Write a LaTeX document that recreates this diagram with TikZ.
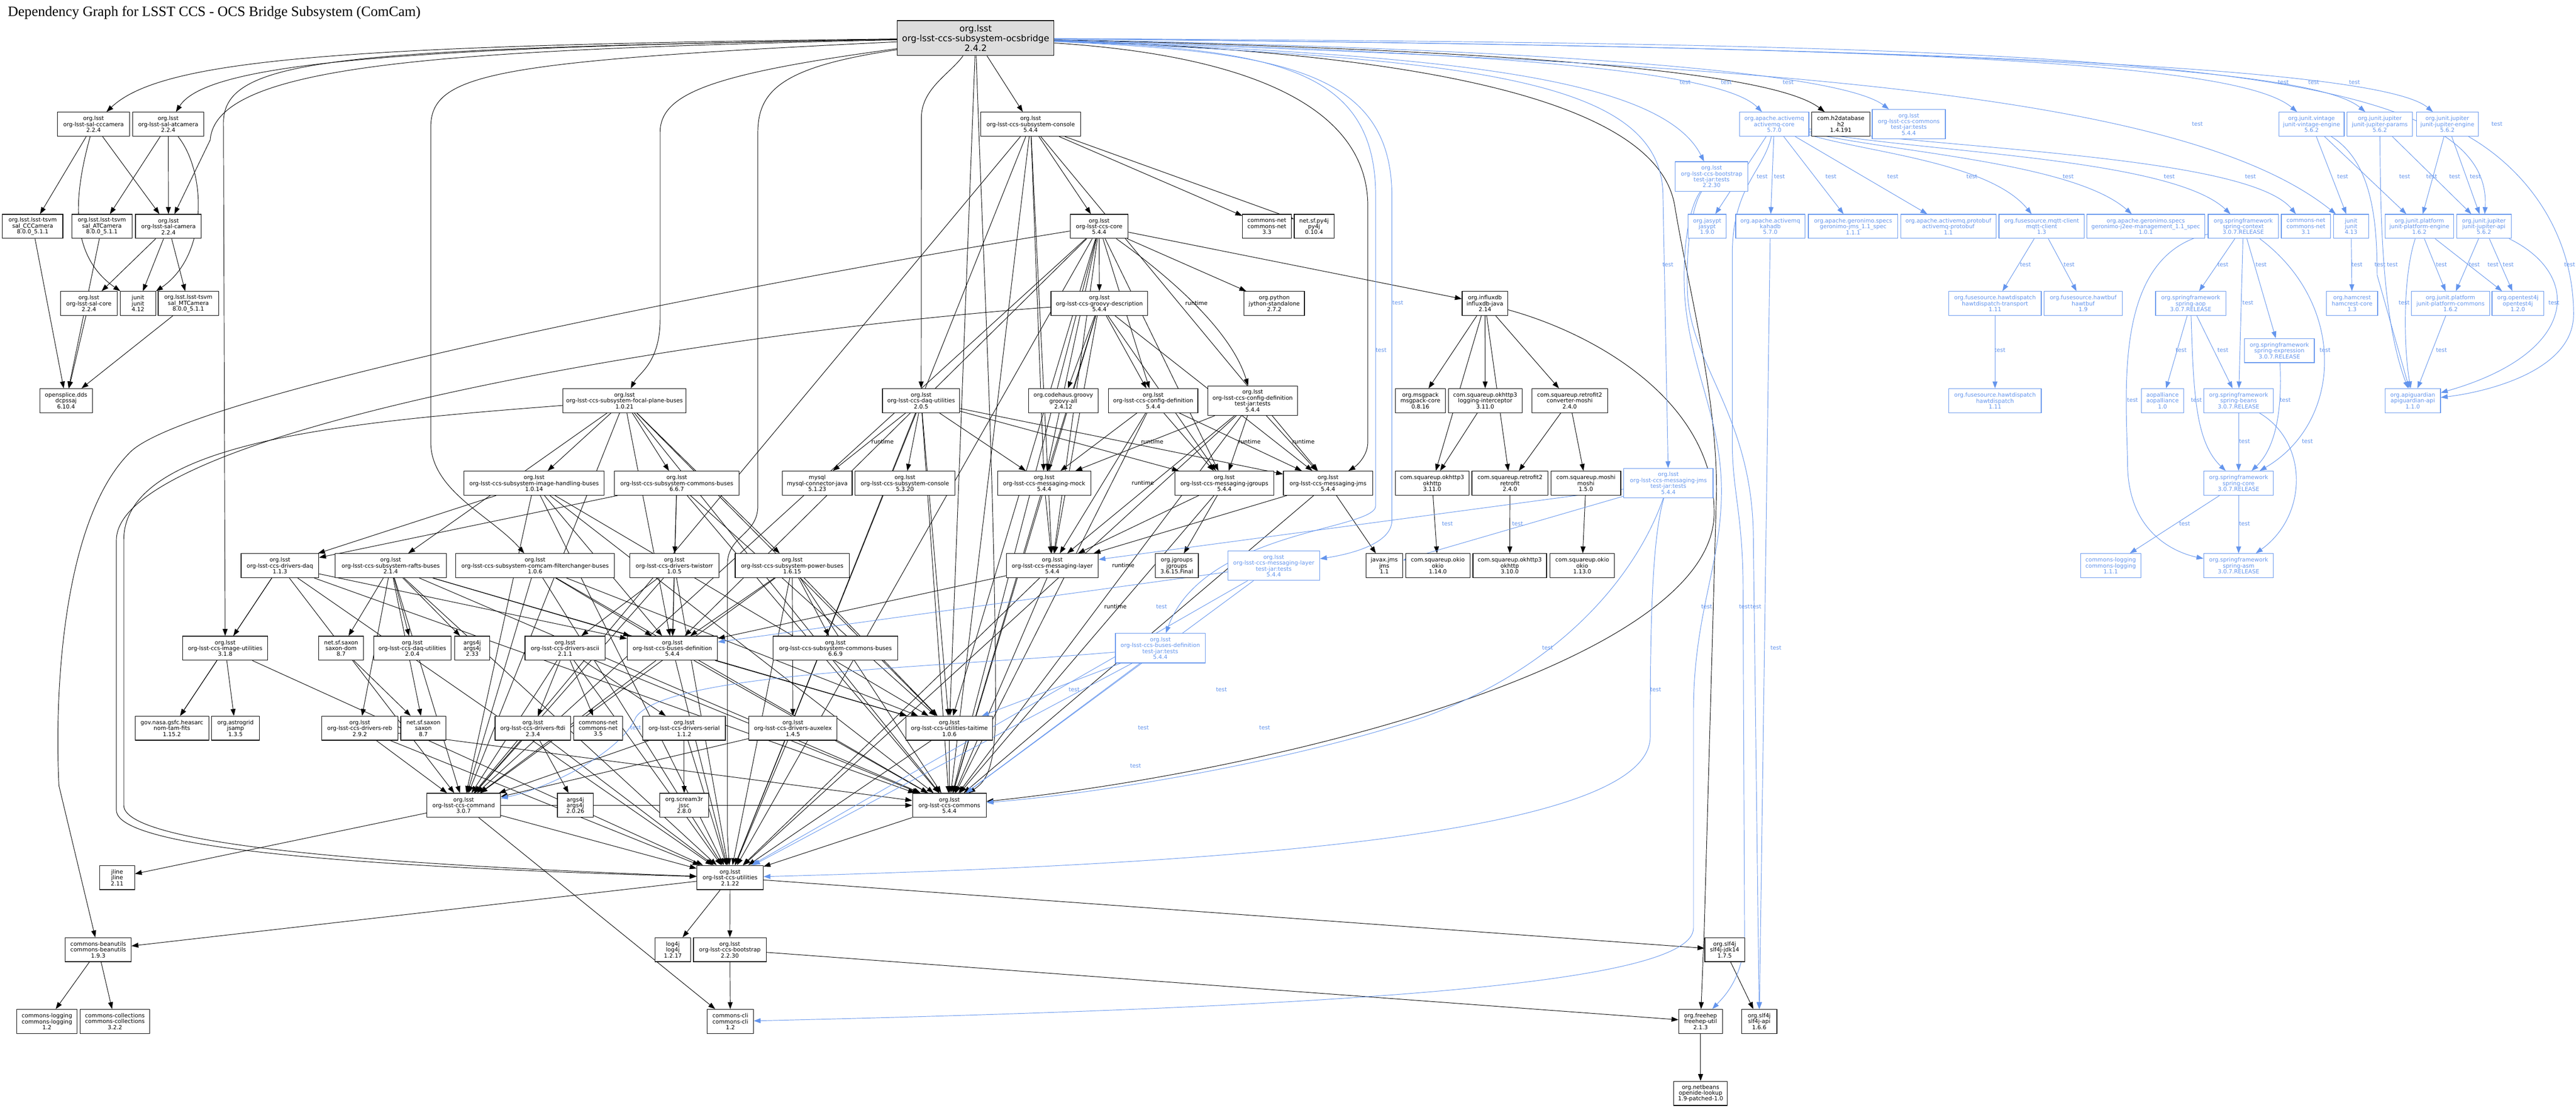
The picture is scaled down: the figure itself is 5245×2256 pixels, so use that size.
\documentclass[tikz,border=0pt]{standalone}
\usepackage{fontspec}
\setmainfont{DejaVu Sans}
\newfontfamily\ttlfont{Liberation Serif}
\usetikzlibrary{arrows.meta,backgrounds}
\definecolor{tblue}{RGB}{100,149,237}
\definecolor{rootgray}{RGB}{221,221,221}
\newcommand\nfont{\fontsize{11.5}{12}\selectfont}
\newcommand\Nd[6][]{\node[nd,minimum width=#5pt,#1] (#2) at (#3,#4) {#6};}
\tikzset{
 nd/.style={draw=black, text=black, fill=white, line width=1.3pt, inner sep=1pt, minimum height=49pt, align=center, font=\nfont},
 bl/.style={draw=tblue, text=tblue},
 four/.style={minimum height=60pt},
 dep/.style={draw=black, line width=1pt, -{Triangle[length=14pt,width=10pt]}},
 tdep/.style={draw=tblue, line width=1pt, -{Triangle[length=14pt,width=10pt]}},
 tlab/.style={text=tblue, font=\nfont, inner sep=0pt},
 rlab/.style={text=black, font=\nfont, inner sep=0pt},
}
\begin{document}
\begin{tikzpicture}[x=1pt,y=-1pt]
\useasboundingbox (0,0) rectangle (5245,2256);
\node[anchor=base west,inner sep=0pt,font={\ttlfont\fontsize{29}{34}\selectfont}] (title) at (16,33) {Dependency Graph for LSST CCS - OCS Bridge Subsystem (ComCam)};
% root
\node[nd, fill=rootgray, minimum width=319pt, minimum height=71pt, font={\fontsize{17.9}{20}\selectfont}] (r) at (1986.5,77.5) {org.lsst\\org-lsst-ccs-subsystem-ocsbridge\\2.4.2};
% row 253
\Nd{cccam}{190.5}{253}{147}{org.lsst\\org-lsst-sal-cccamera\\2.2.4}
\Nd{atcam}{342.5}{253}{145}{org.lsst\\org-lsst-sal-atcamera\\2.2.4}
\Nd{console}{2098.5}{253}{203}{org.lsst\\org-lsst-ccs-subsystem-console\\5.4.4}
\Nd[bl]{amqcore}{3612.5}{253}{141}{org.apache.activemq\\activemq-core\\5.7.0}
\Nd{h2}{3748}{253}{118}{com.h2database\\h2\\1.4.191}
\Nd[bl,four]{commonsT}{3886.5}{253}{149}{org.lsst\\org-lsst-ccs-commons\\test-jar:tests\\5.4.4}
\Nd[bl]{vint}{4706.5}{253}{133}{org.junit.vintage\\junit-vintage-engine\\5.6.2}
\Nd[bl]{jparams}{4845.5}{253}{133}{org.junit.jupiter\\junit-jupiter-params\\5.6.2}
\Nd[bl]{jeng}{4983}{253}{126}{org.junit.jupiter\\junit-jupiter-engine\\5.6.2}
\Nd[bl,four]{bootT}{3485}{359.5}{148}{org.lsst\\org-lsst-ccs-bootstrap\\test-jar:tests\\2.2.30}
% row 461
\Nd{tsvmCC}{66.5}{461}{123}{org.lsst.lsst-tsvm\\sal\_CCCamera\\8.0.0\_5.1.1}
\Nd{tsvmAT}{207.5}{461}{123}{org.lsst.lsst-tsvm\\sal\_ATCamera\\8.0.0\_5.1.1}
\Nd{salcam}{343}{461}{134}{org.lsst\\org-lsst-sal-camera\\2.2.4}
\Nd{core}{2238}{461}{118}{org.lsst\\org-lsst-ccs-core\\5.4.4}
\Nd{cnet33}{2579.5}{461}{99}{commons-net\\commons-net\\3.3}
\Nd{py4j}{2675.5}{461}{81}{net.sf.py4j\\py4j\\0.10.4}
\Nd[bl]{jasypt}{3476}{461}{78}{org.jasypt\\jasypt\\1.9.0}
\Nd[bl]{kahadb}{3604.5}{461}{141}{org.apache.activemq\\kahadb\\5.7.0}
\Nd[bl]{gjms}{3773}{461}{182}{org.apache.geronimo.specs\\geronimo-jms\_1.1\_spec\\1.1.1}
\Nd[bl]{amqpb}{3967}{461}{194}{org.apache.activemq.protobuf\\activemq-protobuf\\1.1}
\Nd[bl]{mqtt}{4157}{461}{174}{org.fusesource.mqtt-client\\mqtt-client\\1.3}
\Nd[bl]{gj2ee}{4369}{461}{240}{org.apache.geronimo.specs\\geronimo-j2ee-management\_1.1\_spec\\1.0.1}
\Nd[bl]{sctx}{4567.5}{461}{143}{org.springframework\\spring-context\\3.0.7.RELEASE}
\Nd[bl]{cnet31}{4695}{461}{100}{commons-net\\commons-net\\3.1}
\Nd[bl]{junit413}{4787}{461}{72}{junit\\junit\\4.13}
\Nd[bl]{pleng}{4926}{461}{140}{org.junit.platform\\junit-platform-engine\\1.6.2}
\Nd[bl]{japi}{5057.5}{461}{111}{org.junit.jupiter\\junit-jupiter-api\\5.6.2}
% row 618
\Nd{salcore}{181}{618}{116}{org.lsst\\org-lsst-sal-core\\2.2.4}
\Nd{junit412}{281}{618}{72}{junit\\junit\\4.12}
\Nd{tsvmMT}{383.5}{618}{123}{org.lsst.lsst-tsvm\\sal\_MTCamera\\8.0.0\_5.1.1}
\Nd{groovyd}{2238.5}{618}{197}{org.lsst\\org-lsst-ccs-groovy-description\\5.4.4}
\Nd{jython}{2594.5}{618}{123}{org.python\\jython-standalone\\2.7.2}
\Nd{influx}{3023.5}{618}{93}{org.influxdb\\influxdb-java\\2.14}
\Nd[bl]{hdt}{4062}{618}{188}{org.fusesource.hawtdispatch\\hawtdispatch-transport\\1.11}
\Nd[bl]{hawtbuf}{4241.5}{618}{159}{org.fusesource.hawtbuf\\hawtbuf\\1.9}
\Nd[bl]{saop}{4460.5}{618}{143}{org.springframework\\spring-aop\\3.0.7.RELEASE}
\Nd[bl]{hamcrest}{4789}{618}{104}{org.hamcrest\\hamcrest-core\\1.3}
\Nd[bl]{pcommons}{4989.5}{618}{159}{org.junit.platform\\junit-platform-commons\\1.6.2}
\Nd[bl]{ot4j}{5126.5}{618}{105}{org.opentest4j\\opentest4j\\1.2.0}
\Nd[bl]{sexpr}{4641}{714}{142}{org.springframework\\spring-expression\\3.0.7.RELEASE}
% row 816
\Nd{ospl}{134.5}{816}{107}{opensplice.dds\\dcpssaj\\6.10.4}
\Nd{fpb}{1271.5}{816}{251}{org.lsst\\org-lsst-ccs-subsystem-focal-plane-buses\\1.0.21}
\Nd{daqu205}{1875.5}{816}{157}{org.lsst\\org-lsst-ccs-daq-utilities\\2.0.5}
\Nd{groovyall}{2165}{816}{142}{org.codehaus.groovy\\groovy-all\\2.4.12}
\Nd{cfgdef}{2348}{816}{182}{org.lsst\\org-lsst-ccs-config-definition\\5.4.4}
\Nd[four]{cfgdefT}{2550.5}{816}{183}{org.lsst\\org-lsst-ccs-config-definition\\test-jar:tests\\5.4.4}
\Nd{msgpack}{2892}{816}{102}{org.msgpack\\msgpack-core\\0.8.16}
\Nd{logint}{3024}{816}{150}{com.squareup.okhttp3\\logging-interceptor\\3.11.0}
\Nd{convmoshi}{3196}{816}{154}{com.squareup.retrofit2\\converter-moshi\\2.4.0}
\Nd[bl]{hd}{4062}{816}{188}{org.fusesource.hawtdispatch\\hawtdispatch\\1.11}
\Nd[bl]{aopall}{4403}{816}{86}{aopalliance\\aopalliance\\1.0}
\Nd[bl]{sbeans}{4558}{816}{142}{org.springframework\\spring-beans\\3.0.7.RELEASE}
\Nd[bl]{apig}{4912.5}{816}{113}{org.apiguardian\\apiguardian-api\\1.1.0}
% row 984
\Nd{ihb}{1087.5}{984}{285}{org.lsst\\org-lsst-ccs-subsystem-image-handling-buses\\1.0.14}
\Nd{scb667}{1378}{984}{254}{org.lsst\\org-lsst-ccs-subsystem-commons-buses\\6.6.7}
\Nd{mysql}{1664}{984}{142}{mysql\\mysql-connector-java\\5.1.23}
\Nd{console520}{1842.5}{984}{203}{org.lsst\\org-lsst-ccs-subsystem-console\\5.3.20}
\Nd{mmock}{2126}{984}{190}{org.lsst\\org-lsst-ccs-messaging-mock\\5.4.4}
\Nd{mjgroups}{2493}{984}{202}{org.lsst\\org-lsst-ccs-messaging-jgroups\\5.4.4}
\Nd{mjms}{2704}{984}{182}{org.lsst\\org-lsst-ccs-messaging-jms\\5.4.4}
\Nd{okhttp311}{2916}{984}{150}{com.squareup.okhttp3\\okhttp\\3.11.0}
\Nd{retrofit}{3074.5}{984}{155}{com.squareup.retrofit2\\retrofit\\2.4.0}
\Nd{moshi}{3229}{984}{142}{com.squareup.moshi\\moshi\\1.5.0}
\Nd[bl,four]{mjmsT}{3397}{984}{182}{org.lsst\\org-lsst-ccs-messaging-jms\\test-jar:tests\\5.4.4}
\Nd[bl]{score}{4558}{984}{142}{org.springframework\\spring-core\\3.0.7.RELEASE}
% row 1152
\Nd{daq}{570}{1152}{158}{org.lsst\\org-lsst-ccs-drivers-daq\\1.1.3}
\Nd{rafts}{795.5}{1152}{227}{org.lsst\\org-lsst-ccs-subsystem-rafts-buses\\2.1.4}
\Nd{filt}{1089.5}{1152}{323}{org.lsst\\org-lsst-ccs-subsystem-comcam-filterchanger-buses\\1.0.6}
\Nd{twist}{1373}{1152}{182}{org.lsst\\org-lsst-ccs-drivers-twistorr\\1.0.5}
\Nd{power}{1613}{1152}{232}{org.lsst\\org-lsst-ccs-subsystem-power-buses\\1.6.15}
\Nd{mlayer}{2142.5}{1152}{187}{org.lsst\\org-lsst-ccs-messaging-layer\\5.4.4}
\Nd{jgroups}{2396}{1152}{88}{org.jgroups\\jgroups\\3.6.15.Final}
\Nd[bl,four]{mlayerT}{2593.5}{1152}{187}{org.lsst\\org-lsst-ccs-messaging-layer\\test-jar:tests\\5.4.4}
\Nd{jms}{2818.5}{1152}{75}{javax.jms\\jms\\1.1}
\Nd{okio114}{2927.5}{1152}{131}{com.squareup.okio\\okio\\1.14.0}
\Nd{okhttp310}{3074}{1152}{150}{com.squareup.okhttp3\\okhttp\\3.10.0}
\Nd{okio113}{3221.5}{1152}{131}{com.squareup.okio\\okio\\1.13.0}
\Nd[bl]{clog111}{4297.5}{1152}{123}{commons-logging\\commons-logging\\1.1.1}
\Nd[bl]{sasm}{4558}{1152}{142}{org.springframework\\spring-asm\\3.0.7.RELEASE}
% row 1320
\Nd{imgu}{458.5}{1320}{173}{org.lsst\\org-lsst-ccs-image-utilities\\3.1.8}
\Nd{saxdom}{694.5}{1320}{91}{net.sf.saxon\\saxon-dom\\8.7}
\Nd{daqu204}{839.5}{1320}{157}{org.lsst\\org-lsst-ccs-daq-utilities\\2.0.4}
\Nd{args433}{961.5}{1320}{71}{args4j\\args4j\\2.33}
\Nd{ascii}{1150.5}{1320}{163}{org.lsst\\org-lsst-ccs-drivers-ascii\\2.1.1}
\Nd{busdef}{1369}{1320}{184}{org.lsst\\org-lsst-ccs-buses-definition\\5.4.4}
\Nd{scb669}{1701}{1320}{254}{org.lsst\\org-lsst-ccs-subsystem-commons-buses\\6.6.9}
\Nd[bl,four]{busdefT}{2362.5}{1320}{183}{org.lsst\\org-lsst-ccs-buses-definition\\test-jar:tests\\5.4.4}
% row 1483
\Nd{fits}{350}{1483}{150}{gov.nasa.gsfc.heasarc\\nom-tam-fits\\1.15.2}
\Nd{jsamp}{479.5}{1483}{97}{org.astrogrid\\jsamp\\1.3.5}
\Nd{reb}{732.5}{1483}{155}{org.lsst\\org-lsst-ccs-drivers-reb\\2.9.2}
\Nd{saxon}{862}{1483}{92}{net.sf.saxon\\saxon\\8.7}
\Nd{ftdi}{1085}{1483}{154}{org.lsst\\org-lsst-ccs-drivers-ftdi\\2.3.4}
\Nd{cnet35}{1218}{1483}{100}{commons-net\\commons-net\\3.5}
\Nd{serial}{1393}{1483}{168}{org.lsst\\org-lsst-ccs-drivers-serial\\1.1.2}
\Nd{auxelex}{1614.5}{1483}{179}{org.lsst\\org-lsst-ccs-drivers-auxelex\\1.4.5}
\Nd{taitime}{1933}{1483}{176}{org.lsst\\org-lsst-ccs-utilities-taitime\\1.0.6}
% row 1640
\Nd{command}{944}{1640}{150}{org.lsst\\org-lsst-ccs-command\\3.0.7}
\Nd{args2026}{1171.5}{1640}{73}{args4j\\args4j\\2.0.26}
\Nd{jssc}{1393}{1640}{100}{org.scream3r\\jssc\\2.8.0}
\Nd{commons}{1933}{1640}{150}{org.lsst\\org-lsst-ccs-commons\\5.4.4}
% row 1787
\Nd{jline}{238.5}{1787}{71}{jline\\jline\\2.11}
\Nd{utils}{1486.5}{1787}{135}{org.lsst\\org-lsst-ccs-utilities\\2.1.22}
% row 1934
\Nd{beanutils}{200}{1934}{134}{commons-beanutils\\commons-beanutils\\1.9.3}
\Nd{log4j}{1370}{1934}{72}{log4j\\log4j\\1.2.17}
\Nd{bootstrap}{1486}{1934}{148}{org.lsst\\org-lsst-ccs-bootstrap\\2.2.30}
\Nd{jdk14}{3511.5}{1934}{81}{org.slf4j\\slf4j-jdk14\\1.7.5}
% row 2080
\Nd{clog12}{95.5}{2080}{123}{commons-logging\\commons-logging\\1.2}
\Nd{ccoll}{234}{2080}{142}{commons-collections\\commons-collections\\3.2.2}
\Nd{cli}{1487}{2080}{94}{commons-cli\\commons-cli\\1.2}
\Nd{freehep}{3462.5}{2080}{89}{org.freehep\\freehep-util\\2.1.3}
\Nd{slf4japi}{3582}{2080}{72}{org.slf4j\\slf4j-api\\1.6.6}
\Nd{openide}{3462.5}{2226.5}{109}{org.netbeans\\openide-lookup\\1.9-patched-1.0}
% labels
\foreach \x/\y [count=\i] in {1797/899,2346/899,2544/899,2654/899,2327/983,2287/1151,2271/1235,2436/617}
  \node[rlab] (rl\i) at (\x,\y) {runtime};
\foreach \x/\y [count=\i] in {3431/168,3515/168,3641/168,4649/168,4711/168,4794/168,4474/252,5084/252,
 3588/359,3623/359,3728/359,3854/359,4015/359,4211/359,4417/359,4582/359,4770/359,4896/359,4951/359,4998/359,5040/359,
 3396/539,4124/539,4213/539,4526/539,4604/539,4799/539,4846/539,4871/539,4971/539,5038/539,5076/539,5107/539,5232/539,
 2846/617,4577/617,4895/617,5200/617,2812/713,4072/713,4441/713,4526/713,4734/713,4971/713,
 4342/815,4472/815,4653/815,4570/899,4698/899,4448/1067,4570/1067,2947/1067,3090/1067,
 2365/1235,3475/1235,3552/1235,3575/1235,3151/1319,3616/1319,2187/1404,2487/1404,3371/1404,
 2328/1482,2575/1482,1294/1482,2312/1560}
  \node[tlab] (tl\i) at (\x,\y) {test};
\begin{scope}[on background layer]
\fill[white] (0,0) rectangle (5245,2256);
% black straight edges
\foreach \a/\b in {
cccam/tsvmCC, cccam/salcam, atcam/tsvmAT, atcam/salcam, salcam/salcore, salcam/junit412, salcam/tsvmMT,
tsvmCC/ospl, tsvmAT/ospl, salcore/ospl, tsvmMT/ospl, r/console, r/taitime,
console/core, console/cnet33, console/py4j, console/mmock, console/mjms, console/mlayer, console/commons, console/command, console/utils,
core/groovyd, core/jython, core/influx, core/cfgdef, core/mmock, core/mjgroups, core/mlayer, core/commons, core/utils, core/command, core/taitime, core/busdef,
groovyd/groovyall, groovyd/cfgdef, groovyd/mmock, groovyd/mjgroups, groovyd/mjms, groovyd/mlayer, groovyd/commons,
influx/msgpack, influx/logint, influx/convmoshi, influx/okhttp311, influx/retrofit,
logint/okhttp311, convmoshi/retrofit, convmoshi/moshi, okhttp311/okio114, retrofit/okhttp310, moshi/okio113,
cfgdef/mmock, cfgdef/mjgroups, cfgdef/mjms, cfgdef/mlayer, cfgdef/commons,
cfgdefT/mmock, cfgdefT/mjgroups, cfgdefT/mjms, cfgdefT/mlayer, cfgdefT/commons, cfgdefT/utils,
daqu205/mysql, daqu205/console520, daqu205/mmock, daqu205/mjgroups, daqu205/mjms, daqu205/commons, daqu205/taitime, daqu205/utils,
fpb/ihb, fpb/scb667, fpb/rafts, fpb/power, fpb/busdef, fpb/command, fpb/commons, fpb/taitime,
ihb/daq, ihb/busdef, ihb/command, ihb/commons, ihb/taitime, ihb/utils,
scb667/twist, scb667/daq, scb667/busdef, scb667/commons, scb667/taitime,
daq/imgu, daq/fits, daq/busdef, daq/command, daq/utils, daq/commons,
rafts/saxdom, rafts/daqu204, rafts/args433, rafts/reb, rafts/saxon, rafts/busdef, rafts/command, rafts/utils, rafts/commons, rafts/taitime,
filt/busdef, filt/command, filt/commons, filt/utils, filt/taitime,
twist/ascii, twist/busdef, twist/command, twist/utils,
power/scb669, power/auxelex, power/busdef, power/command, power/commons, power/utils, power/taitime,
imgu/fits, imgu/jsamp, imgu/utils, saxdom/saxon,
ascii/ftdi, ascii/cnet35, ascii/serial, ascii/command, ascii/utils, ascii/commons,
reb/command, reb/utils, reb/commons, ftdi/args2026, ftdi/command, ftdi/utils,
serial/jssc, serial/command, serial/utils, auxelex/command, auxelex/utils,
busdef/command, busdef/commons, busdef/utils, busdef/taitime,
mmock/mlayer, mmock/commons, mjgroups/mlayer, mjgroups/jgroups, mjgroups/commons,
mjms/mlayer, mjms/jms, mjms/commons, mlayer/busdef, mlayer/commons, mlayer/utils,
taitime/commons, taitime/utils, command/jline, command/commons, command/utils, command/cli,
commons/utils, utils/log4j, utils/bootstrap, utils/jdk14, utils/beanutils,
bootstrap/cli, bootstrap/freehep, jdk14/slf4japi, freehep/openide, beanutils/clog12, beanutils/ccoll}
  \draw[dep] (\a) -- (\b);
% black routed edges
\draw[dep] (cccam) .. controls (150,400) and (140,520) .. (junit412);
\draw[dep] (atcam) .. controls (420,350) and (425,520) .. (junit412);
\draw[dep] (core) .. controls (2320,520) and (2500,650) .. (cfgdefT);
\draw[dep] (r) .. controls (700,92) and (330,120) .. (cccam);
\draw[dep] (r) .. controls (800,96) and (420,130) .. (atcam);
\draw[dep] (r) .. controls (900,102) and (440,130) .. (428,285) -- (salcam);
\draw[dep] (r) .. controls (700,100) and (455,115) .. (455,250) -- (imgu);
\draw[dep] (r) .. controls (1000,125) and (877,150) .. (877,260) -- (877,900) .. controls (877,1000) and (1000,1050) .. (filt);
\draw[dep] (r) .. controls (1450,150) and (1344,190) .. (1344,270) -- (1344,650) .. controls (1344,740) and (1300,760) .. (fpb);
\draw[dep] (r) .. controls (1600,135) and (1543,180) .. (1543,270) -- (1543,1030) .. controls (1543,1090) and (1481,1090) .. (1481,1150) -- (1481,1700) -- (utils);
\draw[dep] (r) .. controls (1935,150) and (1876,180) .. (1876,240) -- (daqu205);
\draw[dep] (r) .. controls (2000,500) and (2027,1000) .. (2027,1440) .. controls (2027,1560) and (2010,1590) .. (commons);
\draw[dep] (r) .. controls (2500,110) and (2785,200) .. (2785,420) -- (2785,900) .. controls (2785,930) and (2760,950) .. (mjms);
\draw[dep] (r) .. controls (3000,100) and (3600,140) .. (h2);
\draw[dep] (r) .. controls (3000,110) and (3380,230) .. (3410,420) .. controls (3440,600) and (3495,800) .. (3495,1000) -- (3470,1890) -- (freehep);
\draw[dep] (influx) .. controls (3250,680) and (3495,820) .. (3490,1050) .. controls (3480,1350) and (2600,1570) .. (commons);
\draw[dep] (core) .. controls (1500,580) and (400,800) .. (268,918) .. controls (130,1050) and (110,1400) .. (120,1600) -- (beanutils);
\draw[dep] (groovyd) .. controls (1400,680) and (237,880) .. (237,1100) -- (237,1650) .. controls (237,1740) and (900,1770) .. (utils);
\draw[dep] (fpb) .. controls (700,860) and (252,900) .. (252,1100) -- (252,1640) .. controls (252,1730) and (900,1765) .. (utils);
% blue straight edges
\foreach \a/\b in {amqcore/jasypt, amqcore/kahadb, amqcore/gjms, amqcore/amqpb, kahadb/slf4japi,
mqtt/hdt, mqtt/hawtbuf, hdt/hd, sctx/saop, sctx/sexpr, sctx/sbeans, saop/aopall, saop/sbeans, sbeans/score, score/clog111, score/sasm,
junit413/hamcrest, vint/junit413, vint/pleng, jparams/japi, jeng/pleng, jeng/japi, pleng/pcommons, pleng/ot4j, japi/pcommons, japi/ot4j, pcommons/apig,
mjmsT/mlayer, mjmsT/jms, mlayerT/busdef, mlayerT/commons, mlayerT/utils, busdefT/taitime, busdefT/commons, busdefT/utils}
  \draw[tdep] (\a) -- (\b);
% blue routed edges
\draw[tdep] (r) .. controls (2900,110) and (3380,150) .. (bootT);
\draw[tdep] (r) .. controls (3000,105) and (3500,140) .. (amqcore);
\draw[tdep] (r) .. controls (3200,100) and (3750,150) .. (commonsT);
\draw[tdep] (r) .. controls (3800,95) and (4550,120) .. (vint);
\draw[tdep] (r) .. controls (3900,95) and (4700,130) .. (jparams);
\draw[tdep] (r) .. controls (4000,95) and (4850,140) .. (jeng);
\draw[tdep] (r) .. controls (3600,130) and (4450,190) .. (junit413);
\draw[tdep] (r) .. controls (4200,90) and (5080,110) .. (japi);
\draw[tdep] (r) .. controls (3000,120) and (3386,160) .. (3386,400) -- (mjmsT);
\draw[tdep] (r) .. controls (2600,105) and (2834,140) .. (2834,400) -- (2834,1060) .. controls (2834,1110) and (2740,1130) .. (mlayerT);
\draw[tdep] (r) .. controls (2600,100) and (2801,140) .. (2801,400) -- (2801,1030) .. controls (2801,1080) and (2450,1080) .. (busdefT);
\draw[tdep] (amqcore) .. controls (3800,310) and (4050,330) .. (mqtt);
\draw[tdep] (amqcore) .. controls (3850,310) and (4220,330) .. (gj2ee);
\draw[tdep] (amqcore) .. controls (3900,310) and (4420,320) .. (sctx);
\draw[tdep] (amqcore) .. controls (4000,305) and (4580,320) .. (cnet31);
\draw[tdep] (amqcore) .. controls (3590,350) and (3527,380) .. (3527,520) -- (3527,900) .. controls (3527,1000) and (3549,1050) .. (3549,1200) -- (3552,1900) .. controls (3552,1990) and (3510,2030) .. (freehep);
\draw[tdep] (bootT) .. controls (3440,420) and (3425,500) .. (3430,600) .. controls (3440,750) and (3505,850) .. (3505,1000) .. controls (3505,1150) and (3448,1250) .. (3448,1450) -- (3448,1890) .. controls (3448,2000) and (2800,2050) .. (cli);
\draw[tdep] (bootT) .. controls (3445,420) and (3432,500) .. (3436,600) .. controls (3445,750) and (3570,850) .. (3570,1100) -- (slf4japi);
\draw[tdep] (sctx) .. controls (4780,620) and (4770,860) .. (score);
\draw[tdep] (sctx) .. controls (4300,520) and (4330,800) .. (4332,950) .. controls (4335,1100) and (4450,1130) .. (sasm);
\draw[tdep] (sbeans) .. controls (4700,900) and (4700,1050) .. (sasm);
\draw[tdep] (saop) .. controls (4466,800) and (4470,900) .. (score);
\draw[tdep] (sexpr) .. controls (4648,860) and (4625,920) .. (score);
\draw[tdep] (vint) .. controls (4830,330) and (4840,450) .. (4840,560) -- (apig);
\draw[tdep] (jparams) .. controls (4847,450) and (4850,650) .. (apig);
\draw[tdep] (jeng) .. controls (5150,350) and (5240,480) .. (5240,640) .. controls (5240,760) and (5050,800) .. (apig);
\draw[tdep] (japi) .. controls (5260,560) and (5250,720) .. (apig);
\draw[tdep] (pleng) .. controls (4893,560) and (4893,700) .. (apig);
\draw[tdep] (mjmsT) .. controls (3340,1150) and (3200,1350) .. (2900,1460) .. controls (2600,1560) and (2200,1620) .. (commons);
\draw[tdep] (mjmsT) .. controls (3362,1100) and (3360,1300) .. (3360,1500) .. controls (3360,1700) and (2500,1760) .. (utils);
\draw[tdep] (busdefT) .. controls (1900,1360) and (1360,1370) .. (1295,1460) .. controls (1260,1540) and (1100,1610) .. (command);
\end{scope}
\end{tikzpicture}
\end{document}
